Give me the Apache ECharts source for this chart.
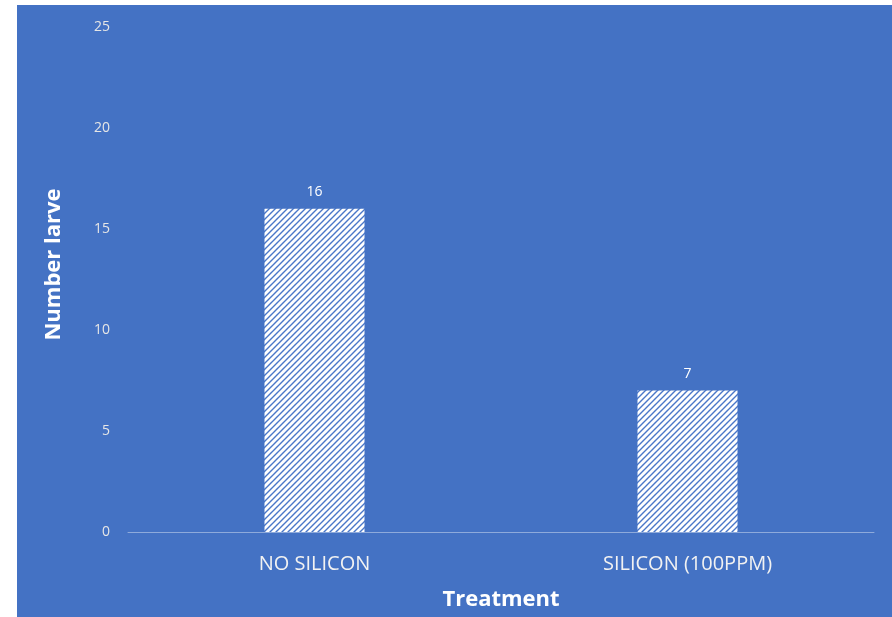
<!DOCTYPE html>
<html>
<head>
<meta charset="utf-8">
<script src="https://cdn.jsdelivr.net/npm/echarts@6/dist/echarts.min.js"></script>
<style>
  html, body { margin: 0; padding: 0; background: #ffffff; width: 892px; height: 617px; overflow: hidden; }
  #chart { position: absolute; left: 17px; top: 5px; width: 875px; height: 612px; }
</style>
</head>
<body>
<div id="chart"></div>
<script>
// Larvae counts per treatment
const categories = ['NO SILICON', 'SILICON (100PPM)'];
const larvae = [16, 7];
const yTicks = { min: 0, max: 25, interval: 5 };

// Diagonal-hatch fill for the bars
function hatchPattern() {
  const size = 6;
  const c = document.createElement('canvas');
  c.width = size; c.height = size;
  const ctx = c.getContext('2d');
  ctx.fillStyle = '#ffffff';
  ctx.fillRect(0, 0, size, size);
  ctx.strokeStyle = '#4a77c8';
  ctx.lineWidth = 1.4;
  ctx.beginPath();
  ctx.moveTo(-1, size + 1); ctx.lineTo(size + 1, -1);
  ctx.moveTo(-1, 1); ctx.lineTo(1, -1);
  ctx.moveTo(size - 1, size + 1); ctx.lineTo(size + 1, size - 1);
  ctx.stroke();
  return c;
}

const chart = echarts.init(document.getElementById('chart'), null, { renderer: 'canvas' });
chart.setOption({
  backgroundColor: '#4472C4',
  animation: false,
  grid: { left: 111, right: 18, top: 22, bottom: 85 },
  xAxis: {
    type: 'category',
    data: categories,
    name: 'Treatment',
    nameLocation: 'middle',
    nameGap: 57,
    nameTextStyle: { color: '#ffffff', fontSize: 22, fontWeight: 'bold', fontFamily: 'Open Sans' },
    axisLine: { lineStyle: { color: '#8eaadb', width: 1 } },
    axisTick: { show: false },
    axisLabel: { color: '#f2f2f2', fontSize: 20, fontFamily: 'Open Sans', margin: 22 }
  },
  yAxis: {
    type: 'value',
    min: yTicks.min, max: yTicks.max, interval: yTicks.interval,
    name: 'Number larve',
    nameLocation: 'middle',
    nameGap: 63,
    nameTextStyle: { color: '#ffffff', fontSize: 22, fontWeight: 'bold', fontFamily: 'Open Sans', padding: [0, 0, 0, 30] },
    axisLine: { show: false },
    axisTick: { show: false },
    splitLine: { show: false },
    axisLabel: { color: '#e6e6e6', fontSize: 14, fontFamily: 'Open Sans', margin: 18 }
  },
  series: [{
    type: 'bar',
    data: larvae,
    barWidth: 100,
    itemStyle: { color: { image: hatchPattern(), repeat: 'repeat' } },
    label: { show: true, position: 'top', distance: 10, color: '#ffffff', fontSize: 14, fontFamily: 'Open Sans' }
  }]
});
</script>
</body>
</html>
